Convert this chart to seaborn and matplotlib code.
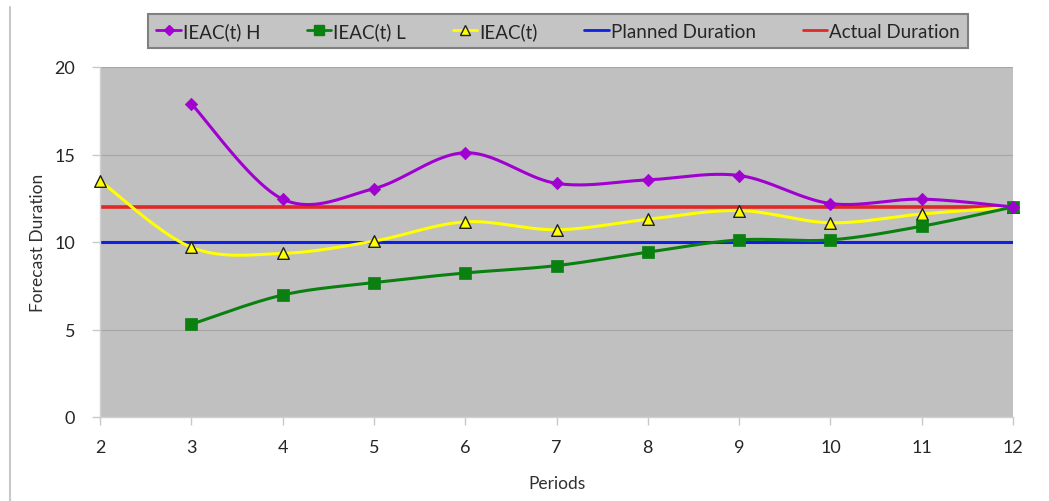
import numpy as np
import pandas as pd
import matplotlib
matplotlib.use("Agg")
import matplotlib.pyplot as plt
from matplotlib.lines import Line2D
import seaborn as sns

periods_h = [3, 4, 5, 6, 7, 8, 9, 10, 11, 12]
ieac_h = [17.9, 12.45, 13.05, 15.1, 13.35, 13.55, 13.8, 12.2, 12.45, 12.0]

periods_l = [3, 4, 5, 6, 7, 8, 9, 10, 11, 12]
ieac_l = [5.3, 6.97, 7.68, 8.23, 8.65, 9.42, 10.12, 10.12, 10.9, 12.0]

periods_t = [2, 3, 4, 5, 6, 7, 8, 9, 10, 11, 12]
ieac_t = [13.5, 9.7, 9.35, 10.05, 11.15, 10.7, 11.3, 11.8, 11.1, 11.6, 12.0]

planned_duration = 10
actual_duration = 12
x_ticks = list(range(2, 13))
y_ticks = [0, 5, 10, 15, 20]

sns.set_theme(style="white")
plt.rcParams["font.family"] = ["Lato", "DejaVu Sans"]


def smooth(xs, ys, n=40):
    """Catmull-Rom style Bezier smoothing between consecutive points."""
    p = np.column_stack([xs, ys]).astype(float)
    out = []
    for i in range(len(p) - 1):
        p0 = p[i - 1] if i > 0 else p[i]
        p1, p2 = p[i], p[i + 1]
        p3 = p[i + 2] if i + 2 < len(p) else p[i + 1]
        c1 = p1 + (p2 - p0) / 6.0
        c2 = p2 - (p3 - p1) / 6.0
        t = np.linspace(0, 1, n)[:, None]
        seg = ((1 - t) ** 3) * p1 + 3 * ((1 - t) ** 2) * t * c1 + 3 * (1 - t) * t ** 2 * c2 + t ** 3 * p2
        out.append(seg if i == 0 else seg[1:])
    s = np.vstack(out)
    return pd.DataFrame({"x": s[:, 0], "y": s[:, 1]})


fig = plt.figure(figsize=(10.49, 5.02), dpi=100)
ax = fig.add_axes([100 / 1049, 1 - 418 / 502, (1013 - 100) / 1049, (418 - 68) / 502])
ax.set_facecolor("#C0C0C0")

grid_c = "#A6A6A6"
for yv in y_ticks[1:]:
    ax.axhline(yv, color=grid_c, lw=0.8, zorder=1)

c_h, c_l, c_t = "#A000D0", "#0A8010", "#FFFF00"
c_plan, c_act = "#1020E0", "#E02828"

ax.axhline(planned_duration, color=c_plan, lw=2.2, zorder=2)
ax.axhline(actual_duration, color=c_act, lw=2.6, zorder=2)

sns.lineplot(data=smooth(periods_t, ieac_t), x="x", y="y", sort=False, estimator=None,
             color=c_t, lw=2.2, ax=ax, zorder=3)
sns.lineplot(data=smooth(periods_l, ieac_l), x="x", y="y", sort=False, estimator=None,
             color=c_l, lw=2.2, ax=ax, zorder=3)
sns.lineplot(data=smooth(periods_h, ieac_h), x="x", y="y", sort=False, estimator=None,
             color=c_h, lw=2.2, ax=ax, zorder=3)

sns.scatterplot(x=periods_t, y=ieac_t, marker="^", s=70, color=c_t, edgecolor="#202020",
                linewidth=1.0, ax=ax, zorder=4, clip_on=False)
sns.scatterplot(x=periods_l, y=ieac_l, marker="s", s=80, color=c_l, edgecolor=c_l,
                linewidth=0.5, ax=ax, zorder=4, clip_on=False)
sns.scatterplot(x=periods_h, y=ieac_h, marker="D", s=40, color=c_h, edgecolor=c_h,
                linewidth=0.5, ax=ax, zorder=5, clip_on=False)

ax.set_xlim(2, 12)
ax.set_ylim(0, 20)
ax.set_xticks(x_ticks)
ax.set_yticks(y_ticks)
ax.set_xlabel("Periods", fontsize=12.5, color="#303030", labelpad=14)
ax.set_ylabel("Forecast Duration", fontsize=12.5, color="#303030", labelpad=6)
ax.tick_params(axis="both", labelsize=13, labelcolor="#262626", color="#C8C8C8",
               length=6, width=1, direction="out", bottom=True, left=True)
ax.tick_params(axis="x", pad=10)
ax.tick_params(axis="y", pad=12)
for side in ("top", "right"):
    ax.spines[side].set_visible(False)
for side in ("left", "bottom"):
    ax.spines[side].set_color("#D0D0D0")
    ax.spines[side].set_linewidth(1)

handles = [
    Line2D([], [], color=c_h, lw=2, marker="D", markersize=5),
    Line2D([], [], color=c_l, lw=2, marker="s", markersize=7),
    Line2D([], [], color=c_t, lw=2, marker="^", markersize=7, markeredgecolor="#202020"),
    Line2D([], [], color=c_plan, lw=2),
    Line2D([], [], color=c_act, lw=2),
]
labels = ["IEAC(t) H", "IEAC(t) L", "IEAC(t)", "Planned Duration", "Actual Duration"]
leg = fig.legend(handles, labels, loc="center", bbox_to_anchor=(558 / 1049, 1 - 32 / 502),
                 ncol=5, fontsize=13.5, frameon=True, fancybox=False, handlelength=1.3,
                 handletextpad=0.1, columnspacing=2.5, borderpad=0.45, borderaxespad=0)
frame = leg.get_frame()
frame.set_facecolor("#C4C4C4")
frame.set_edgecolor("#808080")
frame.set_linewidth(1.5)
frame.set_alpha(1)
for txt in leg.get_texts():
    txt.set_color("#262626")

fig.add_artist(Line2D([10 / 1049, 10 / 1049], [0, 1 - 8 / 502], color="#C8C8C8", lw=1.5,
                      transform=fig.transFigure))

fig.savefig("out.png", dpi=100, facecolor="white")
